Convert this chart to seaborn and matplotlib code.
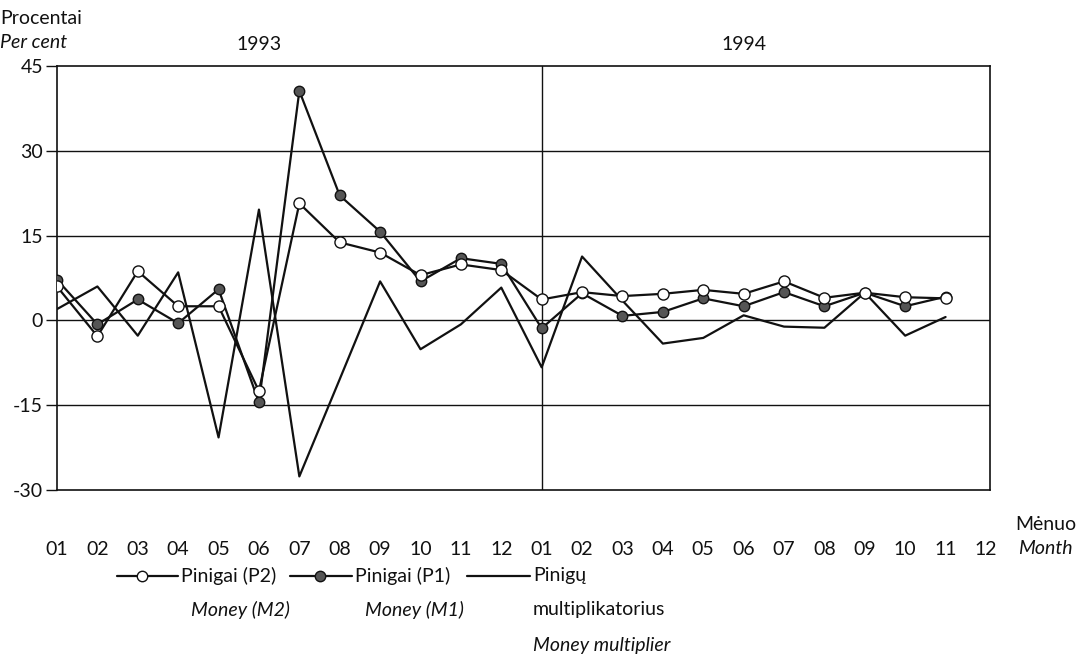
import matplotlib
matplotlib.use("Agg")
import matplotlib.pyplot as plt
from matplotlib.lines import Line2D
import matplotlib.transforms as mtransforms
import numpy as np
import pandas as pd
import seaborn as sns

# ── Data ──────────────────────────────────────────────────────────────────────
MONTH_LABELS = ["01", "02", "03", "04", "05", "06", "07", "08", "09", "10", "11", "12",
                "01", "02", "03", "04", "05", "06", "07", "08", "09", "10", "11", "12"]
YEARS = ["1993", "1994"]

M2 = [6.0, -2.8, 8.7, 2.5, 2.5, -12.5, 20.7, 13.8, 12.0, 8.0, 9.9, 8.9,
      3.7, 5.0, 4.3, 4.7, 5.4, 4.7, 6.9, 4.0, 4.9, 4.1, 3.9]
M1 = [7.2, -0.7, 3.7, -0.5, 5.5, -14.5, 40.6, 22.1, 15.7, 6.9, 11.0, 10.0,
      -1.4, 4.8, 0.8, 1.5, 3.9, 2.5, 5.0, 2.5, 4.9, 2.5, 4.2]
MULT = [2.0, 6.0, -2.7, 8.5, -20.7, 19.6, -27.6, -10.4, 6.9, -5.1, -0.7, 5.8,
        -8.3, 11.3, 3.5, -4.1, -3.1, 0.9, -1.1, -1.3, 4.9, -2.7, 0.6]

Y_TICKS = [-30, -15, 0, 15, 30, 45]

df = pd.DataFrame({"idx": np.arange(len(M2)), "M2": M2, "M1": M1, "MULT": MULT})

# ── Style ─────────────────────────────────────────────────────────────────────
sns.set_theme(style="white")
plt.rcParams["font.family"] = ["Lato", "DejaVu Sans"]
FS = 14
INK = "#111111"
LW = 1.6

fig = plt.figure(figsize=(10.87, 6.56), dpi=100)
ax = fig.add_axes([57 / 1087, 1 - 490 / 656, (990 - 57) / 1087, (490 - 66) / 656])

# ── Series ────────────────────────────────────────────────────────────────────
sns.lineplot(data=df, x="idx", y="MULT", ax=ax, color=INK, linewidth=LW, zorder=3)
sns.lineplot(data=df, x="idx", y="M1", ax=ax, color=INK, linewidth=LW,
             marker="o", markersize=7.5, markerfacecolor="#555555",
             markeredgecolor=INK, markeredgewidth=1.0, zorder=4)
sns.lineplot(data=df, x="idx", y="M2", ax=ax, color=INK, linewidth=LW,
             marker="o", markersize=8, markerfacecolor="white",
             markeredgecolor=INK, markeredgewidth=1.0, zorder=5)

# ── Axes ──────────────────────────────────────────────────────────────────────
ax.set_xlim(0, 23.1)
ax.set_ylim(-30, 45)
ax.set_xlabel("")
ax.set_ylabel("")
for s in ax.spines.values():
    s.set_color(INK)
    s.set_linewidth(1.2)

ax.set_yticks(Y_TICKS)
ax.set_yticklabels([str(v) for v in Y_TICKS], fontsize=FS, color=INK)
ax.tick_params(axis="y", length=8, width=1.0, color=INK, direction="out", pad=2, left=True)
for v in Y_TICKS[1:-1]:
    ax.axhline(v, color=INK, linewidth=1.0, zorder=1)

ax.set_xticks(np.arange(len(MONTH_LABELS)))
ax.set_xticklabels(MONTH_LABELS, fontsize=FS, color=INK)
ax.tick_params(axis="x", length=0, pad=37, bottom=True)

# year divider, running slightly below the axis
ax.axvline(12, color=INK, linewidth=1.0, zorder=1)
ax.set_xticks([12], minor=True)
ax.tick_params(axis="x", which="minor", length=6, width=1.0, color=INK, direction="out")

# year labels above the plot
trans = mtransforms.blended_transform_factory(ax.transData, ax.transAxes)
ax.text(5, 1.03, YEARS[0], transform=trans, ha="center", va="bottom", fontsize=FS, color=INK)
ax.text(17, 1.03, YEARS[1], transform=trans, ha="center", va="bottom", fontsize=FS, color=INK)

# axis titles
fig.text(0 / 1087, 1 - 18 / 656, "Procentai", ha="left", va="center", fontsize=FS, color=INK)
fig.text(0 / 1087, 1 - 43 / 656, "Per cent", ha="left", va="center", fontsize=FS,
         style="italic", color=INK)
fig.text(1015 / 1087, 1 - 524 / 656, "Mėnuo", ha="left", va="center", fontsize=FS, color=INK)
fig.text(1018 / 1087, 1 - 549 / 656, "Month", ha="left", va="center", fontsize=FS,
         style="italic", color=INK)

# ── Legend (drawn by hand, three columns) ─────────────────────────────────────
def legend_entry(x0, x1, xm, face, title, sub, sub2=None):
    y = 1 - 576 / 656
    fig.add_artist(Line2D([x0 / 1087, x1 / 1087], [y, y], color=INK, linewidth=LW))
    if xm is not None:
        fig.add_artist(Line2D([xm / 1087], [y], marker="o", markersize=7.5,
                              markerfacecolor=face, markeredgecolor=INK,
                              markeredgewidth=1.0, linestyle="none"))
    fig.text((x1 + 3) / 1087, y, title, ha="left", va="center", fontsize=FS, color=INK)
    if sub2 is None:
        fig.text((x1 + 13) / 1087, 1 - 610 / 656, sub, ha="left", va="center",
                 fontsize=FS, style="italic", color=INK)
    else:
        fig.text((x1 + 3) / 1087, 1 - 610 / 656, sub, ha="left", va="center",
                 fontsize=FS, color=INK)
        fig.text((x1 + 3) / 1087, 1 - 645 / 656, sub2, ha="left", va="center",
                 fontsize=FS, style="italic", color=INK)

legend_entry(117, 178, 142, "white", "Pinigai (P2)", "Money (M2)")
legend_entry(290, 352, 320, "#555555", "Pinigai (P1)", "Money (M1)")
legend_entry(467, 530, None, None, "Pinigų", "multiplikatorius", "Money multiplier")

fig.savefig("out.png", dpi=100)
plt.close(fig)
